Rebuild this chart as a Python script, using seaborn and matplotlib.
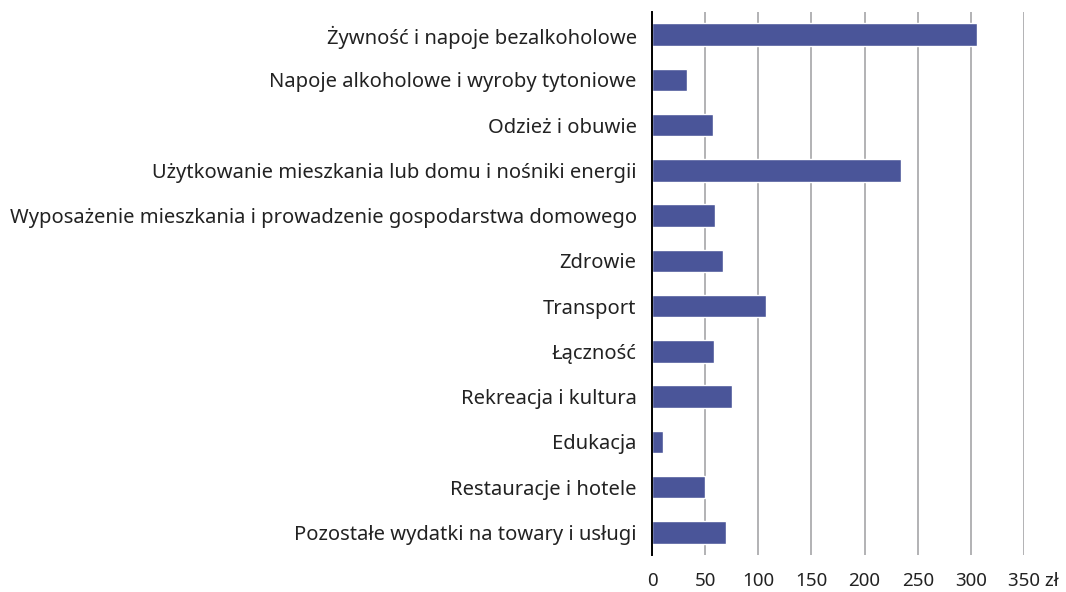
import matplotlib
matplotlib.use("Agg")
import matplotlib.pyplot as plt
import matplotlib.transforms as mtransforms
import seaborn as sns
import pandas as pd

categories = [
    "Żywność i napoje bezalkoholowe",
    "Napoje alkoholowe i wyroby tytoniowe",
    "Odzież i obuwie",
    "Użytkowanie mieszkania lub domu i nośniki energii",
    "Wyposażenie mieszkania i prowadzenie gospodarstwa domowego",
    "Zdrowie",
    "Transport",
    "Łączność",
    "Rekreacja i kultura",
    "Edukacja",
    "Restauracje i hotele",
    "Pozostałe wydatki na towary i usługi",
]
values = [306, 33, 57, 234, 59, 67, 107, 58, 75, 10.7, 50, 70]
x_ticks = [0, 50, 100, 150, 200, 250, 300, 350]
x_tick_labels = ["0", "50", "100", "150", "200", "250", "300", "350 zł"]

sns.set_theme(style="white")
plt.rcParams['font.family'] = ['Noto Sans', 'DejaVu Sans']

df = pd.DataFrame({"cat": categories, "val": values})

fig = plt.figure(figsize=(10.66, 5.92), dpi=100)
ax = fig.add_axes([652/1066, 1-555/592, (1024-652)/1066, (555-12)/592])

sns.barplot(data=df, y="cat", x="val", orient="h", color="#4a5599",
            saturation=1, width=0.5, ax=ax, order=categories)

ax.set_xlim(0, 350)
ax.set_ylim(11.5, -0.5)
ax.set_xticks(x_ticks)
ax.set_xticklabels(x_tick_labels, fontsize=13.5, color="#222222")
ax.tick_params(axis="x", length=0, pad=12)
ax.tick_params(axis="y", length=0, pad=11, labelsize=14.5, labelcolor="#222222")
ax.set_xlabel("")
ax.set_ylabel("")
ax.xaxis.grid(True, color="#a6a6a8", linewidth=1.2)
ax.set_axisbelow(True)
for s in ["top", "right", "bottom"]:
    ax.spines[s].set_visible(False)
ax.spines["left"].set_color("black")
ax.spines["left"].set_linewidth(1.4)
ax.spines["left"].set_zorder(5)

last = ax.get_xticklabels()[-1]
last.set_horizontalalignment("left")
last.set_transform(last.get_transform() +
                   mtransforms.ScaledTranslation(-0.16, 0, fig.dpi_scale_trans))

fig.savefig("out.png", dpi=100)
